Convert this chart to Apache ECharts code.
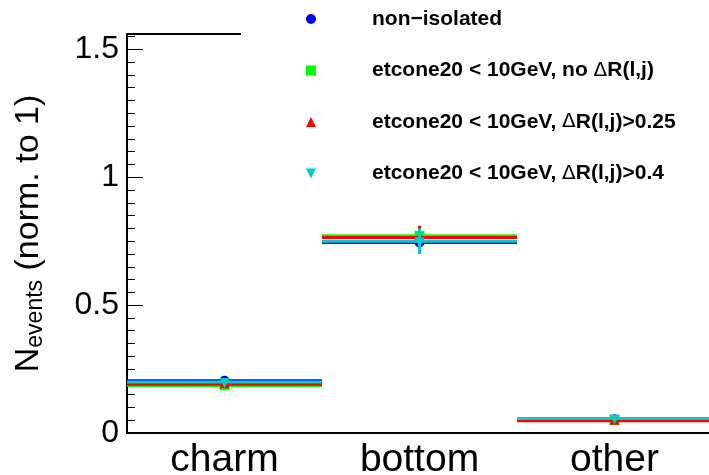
<!DOCTYPE html>
<html>
  <head>
    <meta charset="utf-8" />
    <title>ECharts</title>
    <script src="https://cdn.jsdelivr.net/npm/echarts@6/dist/echarts.min.js"></script>
  </head>
  <body style="margin:0">
    <div id="main" style="width: 709px; height: 475px"></div>
    <script>
      // categories on x
      var categories = ["charm", "bottom", "other"];
      // legend names
      var names = [
        "non\u2212isolated",
        "etcone20 < 10GeV, no \u0394R(l,j)",
        "etcone20 < 10GeV, \u0394R(l,j)>0.25",
        "etcone20 < 10GeV, \u0394R(l,j)>0.4",
      ];
      var colors = ["#0000ff", "#00ff00", "#ff0000", "#00cccc"];
      var markers = ["circle", "square", "triangle", "downTriangle"];
      var legendIcons = ["circle", "rect", "triangle", "path://M0,0 L10,0 L5,10 Z"];

      // normalised fractions per category
      var nonIsolated = [0.204, 0.745, 0.054];
      var noDR = [0.186, 0.771, 0.051];
      var dr025 = [0.191, 0.764, 0.048];
      var dr04 = [0.199, 0.75, 0.057];
      // statistical errors
      var errNonIsolated = [0.012, 0.045, 0.004];
      var errNoDR = [0.01, 0.04, 0.004];
      var errDr025 = [0.011, 0.045, 0.004];
      var errDr04 = [0.012, 0.05, 0.005];

      var values = [nonIsolated, noDR, dr025, dr04];
      var errors = [errNonIsolated, errNoDR, errDr025, errDr04];

      var chartDom = document.getElementById("main");
      var myChart = echarts.init(chartDom);

      function makeRender(color, marker) {
        return function (params, api) {
          var idx = api.value(0);
          var v = api.value(1);
          var e = api.value(2);
          var c = api.coord([idx, v]);
          var half = api.size([1, 0])[0] / 2;
          var lo = api.coord([idx, v - e]);
          var hi = api.coord([idx, v + e]);
          var s = 5;
          var sym;
          if (marker === "circle") {
            sym = { type: "circle", shape: { cx: c[0], cy: c[1], r: s }, style: { fill: color } };
          } else if (marker === "square") {
            sym = { type: "rect", shape: { x: c[0] - s, y: c[1] - s, width: 2 * s, height: 2 * s }, style: { fill: color } };
          } else if (marker === "triangle") {
            sym = { type: "polygon", shape: { points: [[c[0], c[1] - s - 1], [c[0] + s, c[1] + s - 1], [c[0] - s, c[1] + s - 1]] }, style: { fill: color } };
          } else {
            sym = { type: "polygon", shape: { points: [[c[0] - s, c[1] - s + 1], [c[0] + s, c[1] - s + 1], [c[0], c[1] + s + 1]] }, style: { fill: color } };
          }
          return {
            type: "group",
            children: [
              { type: "line", shape: { x1: c[0] - half, y1: c[1], x2: c[0] + half, y2: c[1] }, style: { stroke: color, lineWidth: 3 } },
              { type: "line", shape: { x1: c[0], y1: lo[1], x2: c[0], y2: hi[1] }, style: { stroke: color, lineWidth: 3 } },
              sym,
            ],
          };
        };
      }

      var series = [];
      for (var k = 0; k < names.length; k++) {
        var d = [];
        for (var i = 0; i < categories.length; i++) {
          d.push([i, values[k][i], errors[k][i]]);
        }
        series.push({
          type: "custom",
          name: names[k],
          itemStyle: { color: colors[k] },
          renderItem: makeRender(colors[k], markers[k]),
          encode: { x: 0, y: 1 },
          data: d,
          z: 2 + k,
        });
      }

      var option = {
        backgroundColor: "#ffffff",
        animation: false,
        grid: { left: 127, top: 34, width: 585, height: 399, outerBoundsMode: "none", containLabel: false },
        legend: {
          orient: "vertical",
          left: 301,
          top: 2,
          itemWidth: 10,
          itemHeight: 10,
          itemGap: 27.5,
          data: names.map(function (n, i) {
            return { name: n, icon: legendIcons[i] };
          }),
          formatter: function (n) {
            return n.replace("\u0394", "{d|\u0394}");
          },
          textStyle: {
            fontFamily: "Liberation Sans",
            fontWeight: "bold",
            fontSize: 21,
            lineHeight: 24,
            color: "#000",
            padding: [0, 0, 0, 51],
            rich: {
              d: { fontFamily: "DejaVu Sans", fontWeight: "normal", fontSize: 20, color: "#000" },
            },
          },
        },
        xAxis: {
          type: "category",
          data: categories,
          boundaryGap: true,
          axisLine: { lineStyle: { color: "#000", width: 2 } },
          axisTick: { inside: true, length: 10, lineStyle: { color: "#000", width: 1 } },
          axisLabel: { fontFamily: "Liberation Sans", fontSize: 39, color: "#000", margin: 8 },
          splitLine: { show: false },
        },
        yAxis: {
          type: "value",
          min: 0,
          max: 1.56,
          interval: 0.5,
          name: "{n|N}{s|events}{n| (norm. to 1)}",
          nameLocation: "middle",
          nameGap: 80,
          nameTextStyle: {
            fontFamily: "Liberation Sans",
            color: "#000",
            rich: {
              n: { fontSize: 34, fontFamily: "Liberation Sans", color: "#000" },
              s: { fontSize: 23, fontFamily: "Liberation Sans", color: "#000", padding: [14, 0, 0, 0] },
            },
          },
          axisLine: { show: true, lineStyle: { color: "#000", width: 2 } },
          axisTick: { show: true, inside: true, length: 16, lineStyle: { color: "#000", width: 1 } },
          minorTick: { show: true, splitNumber: 10, length: 8, lineStyle: { color: "#000", width: 1 } },
          axisLabel: {
            fontFamily: "Liberation Sans",
            fontSize: 32,
            color: "#000",
            margin: 8,
            showMaxLabel: false,
            formatter: function (v) {
              return String(v);
            },
          },
          splitLine: { show: false },
        },
        graphic: [
          {
            type: "line",
            shape: { x1: 127, y1: 34, x2: 241, y2: 34 },
            style: { stroke: "#000", lineWidth: 2 },
          },
        ],
        series: series,
      };
      myChart.setOption(option);
    </script>
  </body>
</html>
